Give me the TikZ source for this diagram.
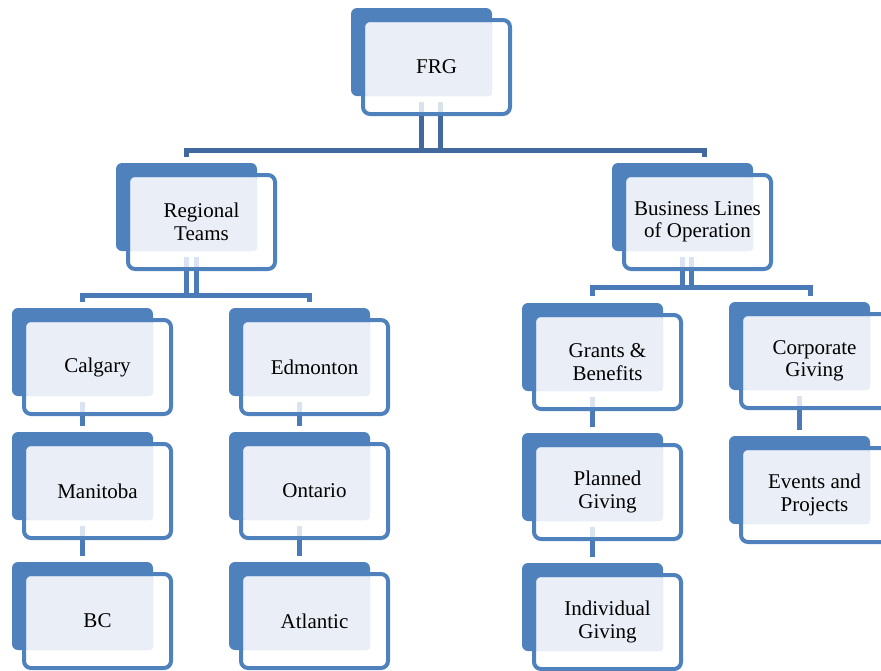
\documentclass[tikz,border=0pt]{standalone}
\usepackage{fontspec}
\setmainfont{Liberation Serif}
\usetikzlibrary{backgrounds}
\definecolor{boxblue}{RGB}{79,129,189}
\definecolor{lightfill}{RGB}{234,239,247}
\definecolor{connA}{RGB}{65,105,158}
\definecolor{connB}{RGB}{74,122,183}
\tikzset{
  backbox/.style={fill=boxblue, rounded corners=6pt, minimum width=141pt, minimum height=88pt, inner sep=0pt},
  frontbox/.style={draw=boxblue, line width=4pt, fill=white, fill opacity=0.8, rounded corners=7pt, minimum width=147pt, minimum height=94pt, inner sep=0pt},
  boxtext/.style={align=center, font=\fontsize{21}{22.5}\selectfont, inner sep=0pt, text=black},
  topconn/.style={draw=connA, line width=5pt, line join=miter},
  subconn/.style={draw=connB, line width=5pt, line join=miter},
}
\newcommand\orgbox[4]{%
  \node[backbox] (#1-b) at ({#2+70.5},{#3+44}) {};
  \node[frontbox] (#1-f) at ({#2+85.5},{#3+59}) {};
  \fill[lightfill, rounded corners=3pt] ({#2+15},{#3+15}) rectangle ({#2+141},{#3+88});
  \node[boxtext] (#1) at ({#2+85.5},{#3+59}) {#4};
}
\begin{document}
\begin{tikzpicture}[x=1pt,y=-1pt]
\useasboundingbox (0,0) rectangle (881,670);
\clip (0,0) rectangle (881,670);
\orgbox{FRG}{351}{8}{FRG}
\orgbox{RT}{116}{163}{Regional\\Teams}
\orgbox{BL}{612}{163}{Business Lines\\of Operation}
\orgbox{CA}{12}{308}{Calgary}
\orgbox{MA}{12}{432}{Manitoba}
\orgbox{BC}{12}{562}{BC}
\orgbox{ED}{229}{308}{Edmonton}
\orgbox{ON}{229}{432}{Ontario}
\orgbox{AT}{229}{562}{Atlantic}
\orgbox{GB}{522}{303}{Grants \&\\Benefits}
\orgbox{PG}{522}{433}{Planned\\Giving}
\orgbox{IG}{522}{563}{Individual\\Giving}
\orgbox{CG}{729}{302}{Corporate\\Giving}
\orgbox{EP}{729}{436}{Events and\\Projects}
\begin{pgfonlayer}{background}
  \coordinate (busA) at (0,150);
  \coordinate (busB) at (0,295);
  \coordinate (busC) at (0,287);
  % top level
  \coordinate (FRG-o1) at ([yshift=-6pt]FRG-b.south);
  \coordinate (FRG-o2) at ([xshift=19pt,yshift=-6pt]FRG-b.south);
  \coordinate (RT-in) at ([yshift=6pt]RT-b.north);
  \coordinate (BL-in) at ([xshift=21.5pt,yshift=6pt]BL-b.north);
  \draw[topconn] (FRG-o1) -- (FRG-o1 |- busA);
  \draw[topconn] (FRG-o2) -- (FRG-o2 |- busA);
  \draw[topconn] (RT-in) |- (BL-in |- busA) -- (BL-in);
  % regional teams
  \coordinate (RT-o1) at ([yshift=-6pt]RT-b.south);
  \coordinate (RT-o2) at ([xshift=9.5pt,yshift=-6pt]RT-b.south);
  \coordinate (CA-in) at ([yshift=6pt]CA-b.north);
  \coordinate (ED-in) at ([xshift=9.5pt,yshift=6pt]ED-b.north);
  \draw[subconn] (RT-o1) -- (RT-o1 |- busB);
  \draw[subconn] (RT-o2) -- (RT-o2 |- busB);
  \draw[subconn] (CA-in) |- (ED-in |- busB) -- (ED-in);
  % business lines
  \coordinate (BL-o1) at ([yshift=-6pt]BL-b.south);
  \coordinate (BL-o2) at ([xshift=8.5pt,yshift=-6pt]BL-b.south);
  \coordinate (GB-in) at ([yshift=7pt]GB-b.north);
  \coordinate (CG-in) at ([xshift=10.5pt,yshift=6pt]CG-b.north);
  \draw[subconn] (BL-o1) -- (BL-o1 |- busC);
  \draw[subconn] (BL-o2) -- (BL-o2 |- busC);
  \draw[subconn] (GB-in) |- (CG-in |- busC) -- (CG-in);
  % chains
  \draw[subconn] ([yshift=-6pt]CA-b.south) -- ([yshift=6pt]MA-b.north);
  \draw[subconn] ([yshift=-6pt]MA-b.south) -- ([yshift=6pt]BC-b.north);
  \draw[subconn] ([yshift=-6pt]ED-b.south) -- ([yshift=6pt]ON-b.north);
  \draw[subconn] ([yshift=-6pt]ON-b.south) -- ([yshift=6pt]AT-b.north);
  \draw[subconn] ([yshift=-6pt]GB-b.south) -- ([yshift=6pt]PG-b.north);
  \draw[subconn] ([yshift=-6pt]PG-b.south) -- ([yshift=6pt]IG-b.north);
  \draw[subconn] ([yshift=-6pt]CG-b.south) -- ([yshift=6pt]EP-b.north);
\end{pgfonlayer}
\end{tikzpicture}
\end{document}
